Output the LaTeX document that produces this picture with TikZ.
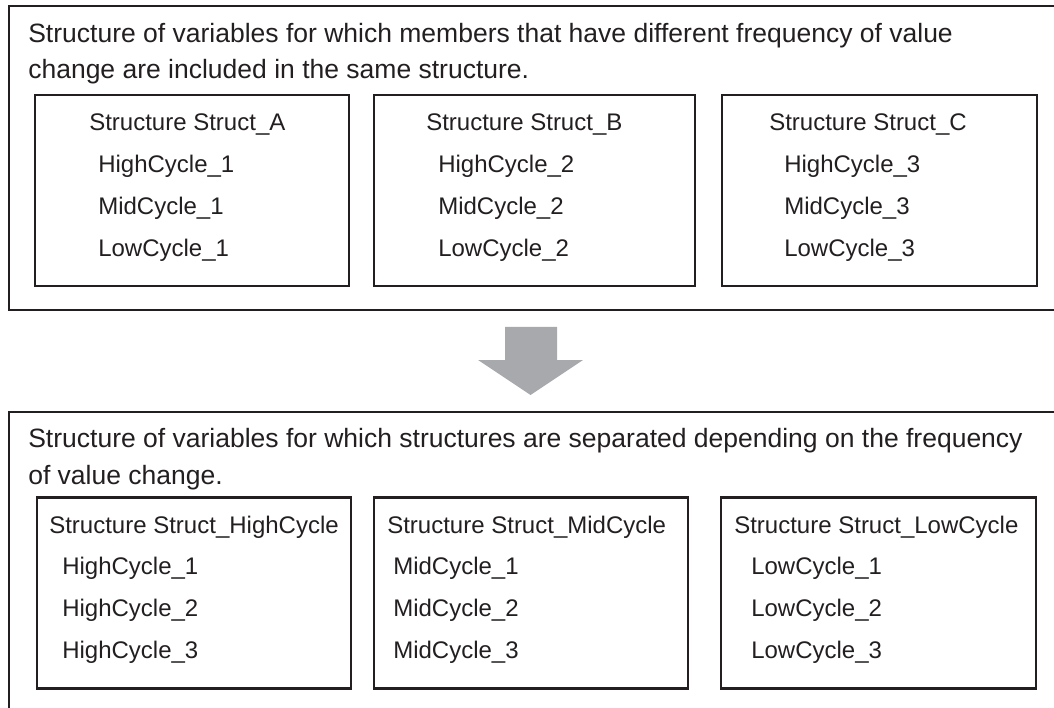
\documentclass[tikz,border=0pt]{standalone}
\usepackage{fontspec}
\setmainfont{Liberation Sans}
\usetikzlibrary{positioning}
\definecolor{linegray}{HTML}{231F20}
\definecolor{arrowgray}{HTML}{A7A9AC}

\begin{document}
\begin{tikzpicture}[x=1pt, y=-1pt, line width=2.6pt,
  inbox/.style = {draw=linegray, minimum height=191pt, inner sep=0pt},
  head/.style = {anchor=base west, inner sep=0pt, text=linegray, font=\fontsize{26.5}{36}\selectfont},
  item/.style = {anchor=base west, inner sep=0pt, text=linegray, font=\fontsize{24}{29}\selectfont}]
      \useasboundingbox (0,0) rectangle (1054,708);
      %% outer frames (open on the right)
      \draw[linegray] (1054,6) -- (9,6) -- (9,310) -- (1054,310);
      \draw[linegray] (1054,412) -- (9,412) -- (9,708);
      %% top part
      \node[head] (top1) at (27,43) {Structure of variables for which members that have different frequency of value};
      \node[head] (top2) at (27,79) {change are included in the same structure.};
      \node[inbox, minimum width=314pt] (boxA) at (192,190.5) {};
      \node[inbox, minimum width=321pt] (boxB) at (534.5,190.5) {};
      \node[inbox, minimum width=315pt] (boxC) at (879.5,190.5) {};
      \node[item] (a0) at (88,131) {Structure Struct\_A};
      \node[item] (a1) at (97,173) {HighCycle\_1};
      \node[item] (a2) at (97,215) {MidCycle\_1};
      \node[item] (a3) at (97,257) {LowCycle\_1};
      \node[item] (b0) at (425,131) {Structure Struct\_B};
      \node[item] (b1) at (437,173) {HighCycle\_2};
      \node[item] (b2) at (437,215) {MidCycle\_2};
      \node[item] (b3) at (437,257) {LowCycle\_2};
      \node[item] (c0) at (768,131) {Structure Struct\_C};
      \node[item] (c1) at (783,173) {HighCycle\_3};
      \node[item] (c2) at (783,215) {MidCycle\_3};
      \node[item] (c3) at (783,257) {LowCycle\_3};
      %% block arrow
      \fill[arrowgray] (505,327) -- (557,327) -- (557,360) -- (583,360) -- (530.5,395) -- (478,360) -- (505,360) -- cycle;
      %% bottom part
      \node[head] (bot1) at (27,447) {Structure of variables for which structures are separated depending on the frequency};
      \node[head] (bot2) at (27,484) {of value change.};
      \node[inbox, minimum width=314pt] (boxHigh) at (194,593) {};
      \node[inbox, minimum width=314pt] (boxMid) at (531,593) {};
      \node[inbox, minimum width=315pt] (boxLow) at (878.5,593) {};
      \node[item] (h0) at (48,533) {Structure Struct\_HighCycle};
      \node[item] (h1) at (61,574) {HighCycle\_1};
      \node[item] (h2) at (61,616) {HighCycle\_2};
      \node[item] (h3) at (61,658) {HighCycle\_3};
      \node[item] (m0) at (386,533) {Structure Struct\_MidCycle};
      \node[item] (m1) at (392,574) {MidCycle\_1};
      \node[item] (m2) at (392,616) {MidCycle\_2};
      \node[item] (m3) at (392,658) {MidCycle\_3};
      \node[item] (l0) at (733,533) {Structure Struct\_LowCycle};
      \node[item] (l1) at (750,574) {LowCycle\_1};
      \node[item] (l2) at (750,616) {LowCycle\_2};
      \node[item] (l3) at (750,658) {LowCycle\_3};
\end{tikzpicture}
\end{document}
